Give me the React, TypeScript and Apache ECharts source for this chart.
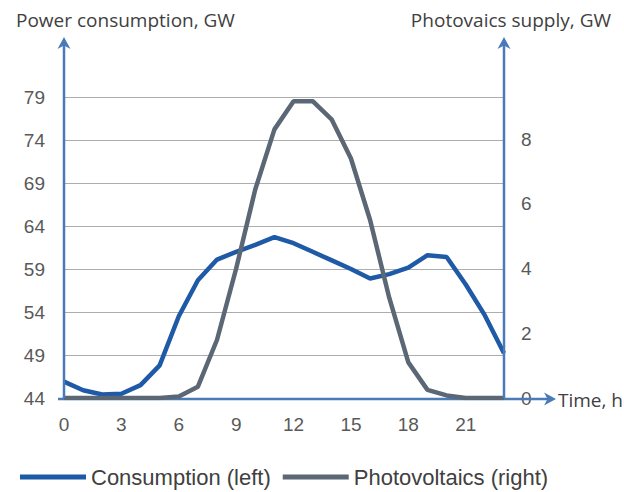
import React, { useEffect, useRef } from "react";
import * as echarts from "echarts";

const hours = ["0", "1", "2", "3", "4", "5", "6", "7", "8", "9", "10", "11", "12", "13", "14", "15", "16", "17", "18", "19", "20", "21", "22", "23"];
const consumption = [45.9, 44.9, 44.4, 44.5, 45.5, 47.8, 53.5, 57.7, 60.1, 61.0, 61.8, 62.7, 62.0, 61.0, 60.0, 59.0, 57.9, 58.4, 59.15, 60.6, 60.4, 57.2, 53.6, 49.2];
const photovoltaics = [0, 0, 0, 0, 0, 0, 0.05, 0.35, 1.8, 4.0, 6.45, 8.3, 9.17, 9.17, 8.6, 7.4, 5.5, 3.1, 1.1, 0.25, 0.08, 0, 0, 0];
const seriesNames = ["Consumption (left)", "Photovoltaics (right)"];
const axisTitles = ["Power consumption, GW", "Photovaics supply, GW", "Time, h"];
const leftAxis = { min: 44, max: 79, interval: 5 };
const rightAxis = { min: 0, max: 9.3, interval: 2 };

const W = 624;
const H = 492;
const GL = 64;
const GR = 504;
const GT = 97;
const GB = 398;
const AXIS_COLOR = "#4a7ab8";
const BLUE = "#1f5aa6";
const GRAY = "#5b6775";

function upArrow(x: number, tipY: number) {
  return {
    type: "polygon",
    z: 5,
    shape: { points: [[x, tipY], [x - 6.5, tipY + 12], [x, tipY + 8.5], [x + 6.5, tipY + 12]] },
    style: { fill: AXIS_COLOR },
  };
}

export default function App() {
  const ref = useRef<HTMLDivElement>(null);
  useEffect(() => {
    const chart = echarts.init(ref.current!, null, { renderer: "svg" });
    const tipX = 556;
    chart.setOption({
      animation: false,
      backgroundColor: "#ffffff",
      textStyle: { fontFamily: "Liberation Sans" },
      title: [
        {
          text: axisTitles[0],
          left: 11,
          top: 5,
          textStyle: { fontFamily: "Open Sans", fontSize: 19, fontWeight: "normal", color: "#404040" },
        },
        {
          text: axisTitles[1],
          right: 8,
          top: 5,
          textStyle: { fontFamily: "Open Sans", fontSize: 19, fontWeight: "normal", color: "#404040" },
        },
      ],
      grid: { left: GL, right: W - GR, top: GT, bottom: H - GB },
      legend: {
        left: 15,
        top: 461,
        icon: "rect",
        itemWidth: 66,
        itemHeight: 5,
        itemGap: 12,
        textStyle: { fontSize: 22, color: "#404040", fontFamily: "Liberation Sans" },
        data: seriesNames,
      },
      xAxis: {
        type: "category",
        data: hours,
        boundaryGap: false,
        axisLine: { show: false },
        axisTick: { show: false },
        splitLine: { show: false },
        axisLabel: { interval: 2, margin: 17, fontSize: 19, color: "#595959" },
      },
      yAxis: [
        {
          type: "value",
          position: "left",
          min: leftAxis.min,
          max: leftAxis.max,
          interval: leftAxis.interval,
          axisLine: { show: false },
          axisTick: { show: false },
          axisLabel: { margin: 19, fontSize: 19, color: "#595959" },
          splitLine: { lineStyle: { color: "#adadad", width: 1 } },
        },
        {
          type: "value",
          position: "right",
          min: rightAxis.min,
          max: rightAxis.max,
          interval: rightAxis.interval,
          axisLine: { show: false },
          axisTick: { show: false },
          axisLabel: { margin: 17, fontSize: 19, color: "#595959", showMaxLabel: false },
          splitLine: { show: false },
        },
      ],
      series: [
        {
          name: seriesNames[0],
          type: "line",
          yAxisIndex: 0,
          data: consumption,
          symbol: "none",
          lineStyle: { width: 4.5, color: BLUE },
          itemStyle: { color: BLUE },
          z: 3,
        },
        {
          name: seriesNames[1],
          type: "line",
          yAxisIndex: 1,
          data: photovoltaics,
          symbol: "none",
          lineStyle: { width: 4.5, color: GRAY },
          itemStyle: { color: GRAY },
          z: 4,
        },
      ],
      graphic: [
        { type: "line", z: 5, shape: { x1: GL, y1: GB, x2: GL, y2: 42 }, style: { stroke: AXIS_COLOR, lineWidth: 2.5 } },
        upArrow(GL, 37),
        { type: "line", z: 5, shape: { x1: GR, y1: GB, x2: GR, y2: 42 }, style: { stroke: AXIS_COLOR, lineWidth: 2.5 } },
        upArrow(GR, 37),
        { type: "line", z: 1, shape: { x1: 58, y1: GB + 1, x2: tipX - 4, y2: GB + 1 }, style: { stroke: AXIS_COLOR, lineWidth: 2.5 } },
        {
          type: "polygon",
          z: 5,
          shape: { points: [[tipX, GB + 1], [tipX - 12, GB + 1 - 6.5], [tipX - 8.5, GB + 1], [tipX - 12, GB + 1 + 6.5]] },
          style: { fill: AXIS_COLOR },
        },
        {
          type: "text",
          z: 5,
          x: tipX + 2,
          y: GB + 2,
          style: { text: axisTitles[2], fontFamily: "Open Sans", fontSize: 19, fill: "#404040", verticalAlign: "middle", align: "left" },
        },
      ],
    });
    return () => chart.dispose();
  }, []);
  return <div ref={ref} style={{ position: "absolute", left: 0, top: 0, width: W, height: H, background: "#fff" }} />;
}
